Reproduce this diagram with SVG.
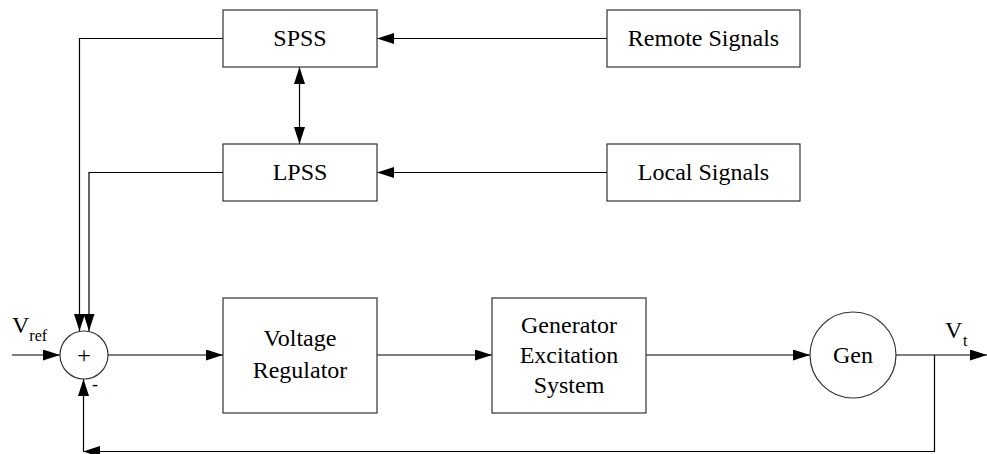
<svg xmlns="http://www.w3.org/2000/svg" width="987" height="454" viewBox="0 0 987 454">
<style>
.box{fill:#fff;stroke:#333;stroke-width:1.2}
.ln{fill:none;stroke:#000;stroke-width:1.2}
.c{text-anchor:middle}
.t{font-family:'Liberation Serif',serif;font-size:24px;fill:#000}
</style>
<defs>
<marker id="ah" markerUnits="userSpaceOnUse" markerWidth="18" markerHeight="12" refX="17" refY="5.5" orient="auto-start-reverse">
<path d="M0,0 L17,5.5 L0,11 z" fill="#000"/>
</marker>
</defs>
<rect width="987" height="454" fill="#fff"/>
<g id="connectors">
<path class="ln" d="M607,38.5 H377" marker-end="url(#ah)"/>
<path class="ln" d="M607,172.5 H377" marker-end="url(#ah)"/>
<path class="ln" d="M299.5,67 V144" marker-start="url(#ah)" marker-end="url(#ah)"/>
<path class="ln" d="M223,38.5 H79.5 V331" marker-end="url(#ah)"/>
<path class="ln" d="M223,172.5 H89 V331" marker-end="url(#ah)"/>
<path class="ln" d="M12,355 H60" marker-end="url(#ah)"/>
<path class="ln" d="M108,355 H223" marker-end="url(#ah)"/>
<path class="ln" d="M377,355 H492" marker-end="url(#ah)"/>
<path class="ln" d="M646,355 H810" marker-end="url(#ah)"/>
<path class="ln" d="M896,355 H987" marker-end="url(#ah)"/>
<path class="ln" d="M934.5,355 V451.5 H83" marker-end="url(#ah)"/>
<path class="ln" d="M83.5,451.5 V379" marker-end="url(#ah)"/>
</g>
<g id="spss"><rect class="box" x="223" y="10" width="154" height="57"/><text class="t c" x="300" y="46">SPSS</text></g>
<g id="lpss"><rect class="box" x="223" y="144" width="154" height="57"/><text class="t c" x="300" y="180">LPSS</text></g>
<g id="remote"><rect class="box" x="607" y="10" width="193" height="57"/><text class="t c" x="703.5" y="46">Remote Signals</text></g>
<g id="local"><rect class="box" x="607" y="144" width="193" height="57"/><text class="t c" x="703.5" y="180">Local Signals</text></g>
<g id="sum"><circle cx="84" cy="355" r="24" fill="#fff" stroke="#333" stroke-width="1.2"/><text class="t c" x="84" y="363">+</text><text class="t" x="92" y="390" style="font-size:18px">-</text></g>
<g id="vref"><text class="t" x="12" y="333">V<tspan dy="8" style="font-size:16px">ref</tspan></text></g>
<g id="vreg"><rect class="box" x="223" y="298" width="154" height="115"/><text class="t c" x="300" y="345.5">Voltage</text><text class="t c" x="300" y="378">Regulator</text></g>
<g id="ges"><rect class="box" x="492" y="298" width="154" height="115"/><text class="t c" x="569" y="332.5">Generator</text><text class="t c" x="569" y="362.5">Excitation</text><text class="t c" x="569" y="392.5">System</text></g>
<g id="gen"><circle cx="853" cy="355" r="43" fill="#fff" stroke="#333" stroke-width="1.2"/><text class="t c" x="853" y="362.5">Gen</text></g>
<g id="vt"><text class="t" x="945" y="338">V<tspan x="963" y="346" style="font-size:16px">t</tspan></text></g>
</svg>
